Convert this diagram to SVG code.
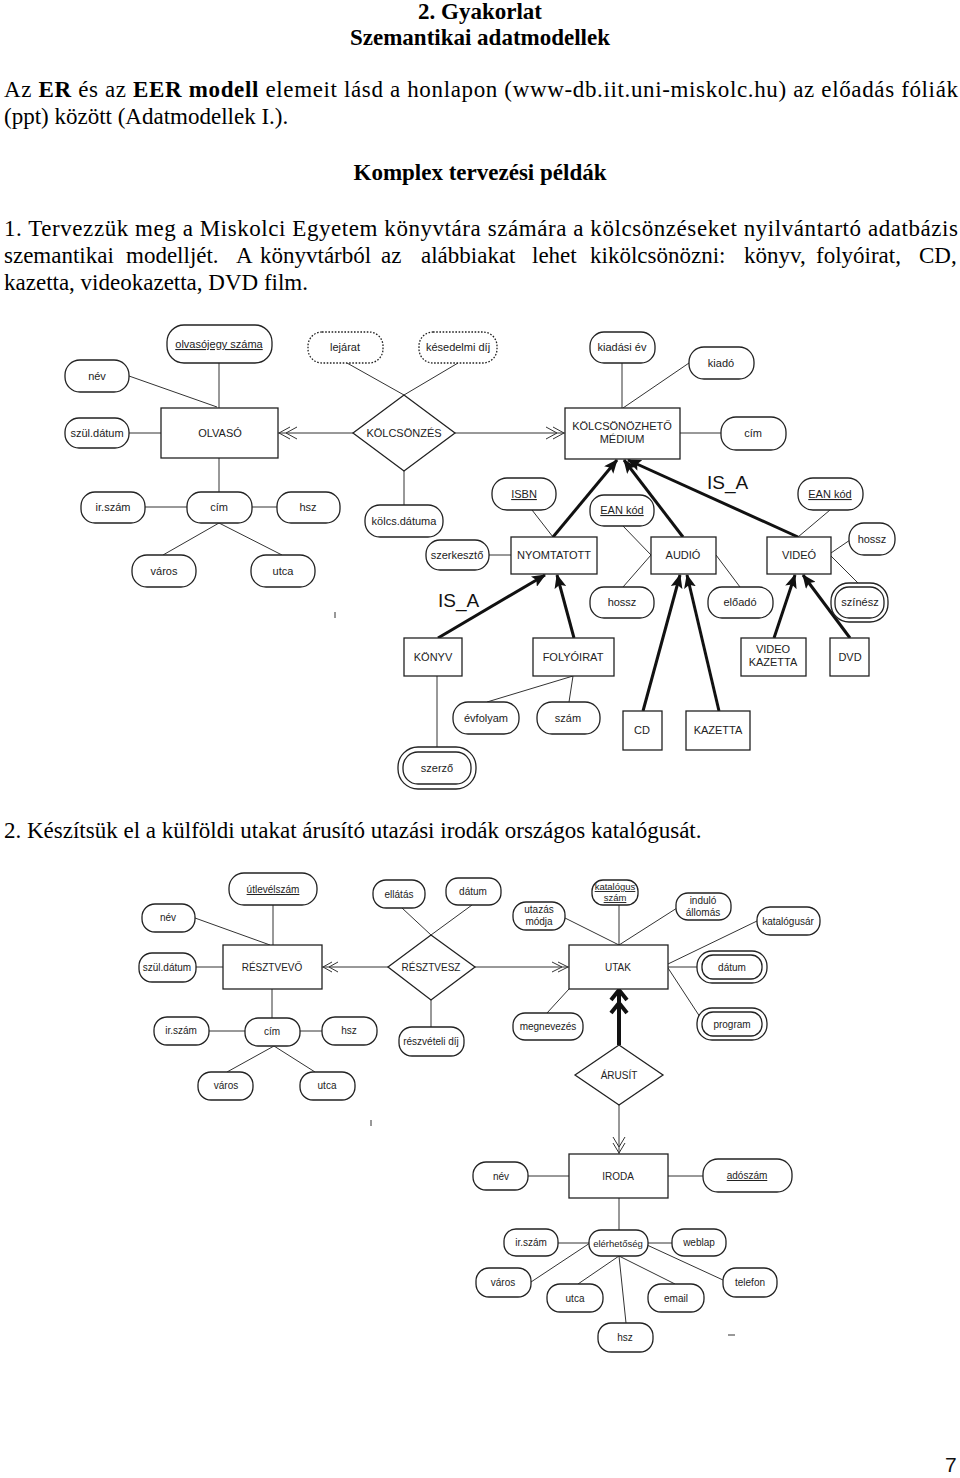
<svg xmlns="http://www.w3.org/2000/svg" width="960" height="1478" viewBox="0 0 960 1478">
<style>
.t{font-family:"Liberation Serif","Times New Roman",serif;font-size:23px;fill:#000}
.b{font-weight:bold}
.d{font-family:"Liberation Sans",Arial,sans-serif;font-size:11px;fill:#222;text-anchor:middle}
.s{font-size:10px}
.xs{font-size:9.5px}
.u{text-decoration:underline}
.isa{font-family:"Liberation Sans",Arial,sans-serif;font-size:19px;fill:#111}
.box{fill:#fff;stroke:#222;stroke-width:1.3}
.dot{stroke-dasharray:1.6 1.6}
.ln{stroke:#333;stroke-width:1;fill:none}
.thk{stroke:#111;stroke-width:3;fill:none}
.thk4{stroke:#111;stroke-width:4;fill:none}
</style>
<defs>
<marker id="tri" markerUnits="userSpaceOnUse" markerWidth="14" markerHeight="12" viewBox="0 0 14 12" refX="13" refY="6" orient="auto">
<path d="M0,0 L14,6 L0,12 L3,6 z" fill="#111"/>
</marker>
</defs>
<rect width="960" height="1478" fill="#fff"/>

<!-- page text -->
<text class="t b" x="480" y="19" text-anchor="middle">2. Gyakorlat</text>
<text class="t b" x="480" y="45" text-anchor="middle">Szemantikai adatmodellek</text>
<text class="t" x="4" y="97" textLength="954" lengthAdjust="spacing">Az <tspan class="b">ER</tspan> és az <tspan class="b">EER modell</tspan> elemeit lásd a honlapon (www-db.iit.uni-miskolc.hu) az előadás fóliák</text>
<text class="t" x="4" y="124">(ppt) között (Adatmodellek I.).</text>
<text class="t b" x="480" y="180" text-anchor="middle">Komplex tervezési példák</text>
<text class="t" x="4" y="236" textLength="954" lengthAdjust="spacing">1. Tervezzük meg a Miskolci Egyetem könyvtára számára a kölcsönzéseket nyilvántartó adatbázis</text>
<text class="t" y="263"><tspan x="4">szemantikai</tspan><tspan x="126">modelljét.</tspan><tspan x="236">A</tspan><tspan x="260">könyvtárból</tspan><tspan x="381">az</tspan><tspan x="421">alábbiakat</tspan><tspan x="532">lehet</tspan><tspan x="590">kikölcsönözni:</tspan><tspan x="744">könyv,</tspan><tspan x="816">folyóirat,</tspan><tspan x="919">CD,</tspan></text>
<text class="t" x="4" y="290">kazetta, videokazetta, DVD film.</text>
<text class="t" x="4" y="838">2. Készítsük el a külföldi utakat árusító utazási irodák országos katalógusát.</text>
<text x="945" y="1472" font-family="Liberation Sans, Arial, sans-serif" font-size="21" fill="#111">7</text>

<!-- connectors -->
<g id="connectors">
<path class="ln" d="M219,363 V408 M129,376 L217,407 M129,433 H161 M278,433 H353 M290,427 L279,433 L290,439 M297,427 L286,433 L297,439"/>
<path class="ln" d="M347,363 L404,395 M458,363 L404,395 M455,433 H565 M553,427 L564,433 L553,439 M546,427 L557,433 L546,439"/>
<path class="ln" d="M219,458 V492 M145,507 H187 M252,507 H277 M219,523 L163,555 M219,523 L282,555 M404,471 V505"/>
<path class="ln" d="M622,363 V408 M689,363 L623,408 M680,433 H721 M489,555 H511 M532,510 L553,537"/>
<path class="ln" d="M623,526 L651,555 M623,587 L651,555 M716,555 L740,587 M830,510 L798,537 M850,540 L831,553 M831,556 L858,583"/>
<path class="ln" d="M437,676 V747 M573,676 L487,702 M573,676 L569,702"/>
<g class="thk" marker-end="url(#tri)">
<path d="M553,537 L617,460"/>
<path d="M683,537 L624,460"/>
<path d="M798,537 L628,460"/>
<path d="M438,638 L545,575"/>
<path d="M574,638 L557,575"/>
<path d="M643,711 L680,575"/>
<path d="M719,711 L687,575"/>
<path d="M774,638 L795,575"/>
<path d="M850,638 L803,575"/>
</g>
<path class="ln" d="M273,905 V945 M195,918 L270,945 M196,967 H223 M322,967 H388 M332,962 L323,967 L332,972 M338,962 L329,967 L338,972"/>
<path class="ln" d="M402,908 L431,935 M472,905 L431,935 M431,1000 V1027 M272,989 V1018 M209,1031 H245 M300,1031 H322 M274,1046 L227,1072 M274,1046 L315,1072"/>
<path class="ln" d="M475,967 H569 M558,962 L568,967 L558,972 M552,962 L562,967 L552,972"/>
<path class="ln" d="M565,918 L619,945 M619,905 V945 M677,908 L619,945 M757,921 L668,964 M668,967 H697 M668,968 L702,1020 M547,1013 L569,989"/>
<path class="thk4" d="M619,1045 V991 M611,1000 L619,990 L627,1000 M611,1013 L619,1003 L627,1013"/>
<path class="ln" d="M619,1105 V1154 M613,1143 L619,1153 L625,1143 M613,1137 L619,1147 L625,1137"/>
<path class="ln" d="M528,1176 H569 M668,1176 H703 M619,1198 V1230 M558,1243 H590 M647,1243 H672"/>
<path class="ln" d="M590,1243 L531,1282 M619,1256 L578,1284 M619,1256 L675,1284 M619,1256 L626,1323 M647,1245 L723,1280"/>
<path class="ln" d="M335,612 V618 M371,1120 V1126 M728,1335 H735"/>
</g>

<!-- diagram 1 nodes -->
<g id="olvasojegy"><rect class="box" x="167" y="325" width="105" height="38" rx="17"/><text class="d u" x="219" y="348">olvasójegy száma</text></g>
<g id="nev1"><rect class="box" x="65" y="360" width="64" height="32" rx="15"/><text class="d" x="97" y="380">név</text></g>
<g id="szuldatum1"><rect class="box" x="65" y="418" width="64" height="30" rx="14"/><text class="d" x="97" y="437">szül.dátum</text></g>
<g id="olvaso"><rect class="box" x="161" y="408" width="117" height="50"/><text class="d" x="220" y="437">OLVASÓ</text></g>
<g id="lejarat"><rect class="box dot" x="308" y="332" width="75" height="31" rx="14"/><text class="d" x="345" y="351">lejárat</text></g>
<g id="kesedelmi"><rect class="box dot" x="419" y="332" width="78" height="31" rx="14"/><text class="d" x="458" y="351">késedelmi díj</text></g>
<g id="kolcsonzes"><polygon class="box" points="353,433 404,395 455,433 404,471"/><text class="d" x="404" y="437">KÖLCSÖNZÉS</text></g>
<g id="kiadasiev"><rect class="box" x="590" y="332" width="65" height="31" rx="14"/><text class="d" x="622" y="351">kiadási év</text></g>
<g id="kiado"><rect class="box" x="689" y="347" width="65" height="32" rx="15"/><text class="d" x="721" y="367">kiadó</text></g>
<g id="medium"><rect class="box" x="565" y="408" width="115" height="51"/><text class="d" x="622" y="430">KÖLCSÖNÖZHETŐ</text><text class="d" x="622" y="443">MÉDIUM</text></g>
<g id="cim1"><rect class="box" x="721" y="417" width="65" height="33" rx="15"/><text class="d" x="753" y="437">cím</text></g>
<g id="cim2"><rect class="box" x="187" y="492" width="65" height="31" rx="14"/><text class="d" x="219" y="511">cím</text></g>
<g id="irszam1"><rect class="box" x="81" y="492" width="64" height="31" rx="14"/><text class="d" x="113" y="511">ir.szám</text></g>
<g id="hsz1"><rect class="box" x="277" y="492" width="63" height="31" rx="14"/><text class="d" x="308" y="511">hsz</text></g>
<g id="varos1"><rect class="box" x="132" y="555" width="64" height="32" rx="15"/><text class="d" x="164" y="575">város</text></g>
<g id="utca1"><rect class="box" x="251" y="555" width="64" height="32" rx="15"/><text class="d" x="283" y="575">utca</text></g>
<g id="kolcsdatuma"><rect class="box" x="365" y="505" width="78" height="32" rx="15"/><text class="d" x="404" y="525">kölcs.dátuma</text></g>
<g id="isbn"><rect class="box" x="492" y="478" width="64" height="32" rx="15"/><text class="d u" x="524" y="498">ISBN</text></g>
<g id="ean1"><rect class="box" x="590" y="495" width="64" height="31" rx="14"/><text class="d u" x="622" y="514">EAN kód</text></g>
<g id="ean2"><rect class="box" x="798" y="478" width="65" height="32" rx="15"/><text class="d u" x="830" y="498">EAN kód</text></g>
<g id="szerkeszto"><rect class="box" x="426" y="540" width="63" height="30" rx="14"/><text class="d" x="457" y="559">szerkesztő</text></g>
<g id="nyomtatott"><rect class="box" x="511" y="537" width="86" height="37"/><text class="d" x="554" y="559">NYOMTATOTT</text></g>
<g id="audio"><rect class="box" x="651" y="537" width="65" height="37"/><text class="d" x="683" y="559">AUDIÓ</text></g>
<g id="video"><rect class="box" x="767" y="537" width="64" height="37"/><text class="d" x="799" y="559">VIDEÓ</text></g>
<g id="hosszv"><rect class="box" x="849" y="523" width="46" height="32" rx="15"/><text class="d" x="872" y="543">hossz</text></g>
<g id="szinesz"><rect class="box" x="831" y="583" width="57" height="39" rx="18"/><rect class="box" x="835" y="587" width="49" height="31" rx="14"/><text class="d" x="860" y="606">színész</text></g>
<g id="hossza"><rect class="box" x="590" y="587" width="64" height="31" rx="14"/><text class="d" x="622" y="606">hossz</text></g>
<g id="eloado"><rect class="box" x="708" y="587" width="65" height="31" rx="14"/><text class="d" x="740" y="606">előadó</text></g>
<g id="konyv"><rect class="box" x="404" y="638" width="58" height="38"/><text class="d" x="433" y="661">KÖNYV</text></g>
<g id="folyoirat"><rect class="box" x="533" y="638" width="81" height="38"/><text class="d" x="573" y="661">FOLYÓIRAT</text></g>
<g id="videokazetta"><rect class="box" x="741" y="638" width="65" height="38"/><text class="d" x="773" y="653">VIDEO</text><text class="d" x="773" y="666">KAZETTA</text></g>
<g id="dvd"><rect class="box" x="830" y="638" width="39" height="38"/><text class="d" x="850" y="661">DVD</text></g>
<g id="cd"><rect class="box" x="623" y="711" width="39" height="39"/><text class="d" x="642" y="734">CD</text></g>
<g id="kazetta"><rect class="box" x="686" y="711" width="64" height="39"/><text class="d" x="718" y="734">KAZETTA</text></g>
<g id="evfolyam"><rect class="box" x="453" y="702" width="66" height="32" rx="15"/><text class="d" x="486" y="722">évfolyam</text></g>
<g id="szam"><rect class="box" x="537" y="702" width="63" height="32" rx="15"/><text class="d" x="568" y="722">szám</text></g>
<g id="szerzo"><rect class="box" x="398" y="747" width="78" height="42" rx="20"/><rect class="box" x="403" y="752" width="68" height="32" rx="15"/><text class="d" x="437" y="772">szerző</text></g>
<g id="isa-labels"><text class="isa" x="438" y="607">IS_A</text><text class="isa" x="707" y="489">IS_A</text></g>

<!-- diagram 2 nodes -->
<g id="utlevelszam"><rect class="box" x="229" y="873" width="88" height="32" rx="15"/><text class="d s u" x="273" y="893">útlevélszám</text></g>
<g id="nev2"><rect class="box" x="142" y="904" width="53" height="28" rx="13"/><text class="d s" x="168" y="921">név</text></g>
<g id="resztvevo"><rect class="box" x="223" y="945" width="99" height="44"/><text class="d s" x="272" y="971">RÉSZTVEVŐ</text></g>
<g id="szuldatum2"><rect class="box" x="139" y="953" width="57" height="29" rx="13"/><text class="d s" x="167" y="971">szül.dátum</text></g>
<g id="resztvesz"><polygon class="box" points="388,967 431,935 475,967 431,1000"/><text class="d s" x="431" y="971">RÉSZTVESZ</text></g>
<g id="ellatas"><rect class="box" x="373" y="880" width="52" height="28" rx="13"/><text class="d s" x="399" y="898">ellátás</text></g>
<g id="datum1"><rect class="box" x="446" y="878" width="55" height="27" rx="12"/><text class="d s" x="473" y="895">dátum</text></g>
<g id="reszvetelidij"><rect class="box" x="399" y="1027" width="65" height="29" rx="13"/><text class="d s" x="431" y="1045">részvételi díj</text></g>
<g id="cim3"><rect class="box" x="245" y="1018" width="55" height="28" rx="13"/><text class="d s" x="272" y="1035">cím</text></g>
<g id="irszam2"><rect class="box" x="154" y="1017" width="55" height="28" rx="13"/><text class="d s" x="181" y="1034">ir.szám</text></g>
<g id="hsz2"><rect class="box" x="322" y="1017" width="55" height="28" rx="13"/><text class="d s" x="349" y="1034">hsz</text></g>
<g id="varos2"><rect class="box" x="198" y="1072" width="55" height="28" rx="13"/><text class="d s" x="226" y="1089">város</text></g>
<g id="utca2"><rect class="box" x="300" y="1072" width="55" height="28" rx="13"/><text class="d s" x="327" y="1089">utca</text></g>
<g id="utak"><rect class="box" x="569" y="945" width="99" height="44"/><text class="d s" x="618" y="971">UTAK</text></g>
<g id="utazasmodja"><rect class="box" x="513" y="902" width="52" height="28" rx="13"/><text class="d s" x="539" y="913">utazás</text><text class="d s" x="539" y="925">módja</text></g>
<g id="katalogusszam"><rect class="box" x="592" y="880" width="46" height="25" rx="11"/><text class="d xs u" x="615" y="890">katalógus</text><text class="d xs u" x="615" y="901">szám</text></g>
<g id="indulo"><rect class="box" x="676" y="893" width="55" height="27" rx="12"/><text class="d s" x="703" y="904">induló</text><text class="d s" x="703" y="916">állomás</text></g>
<g id="katalogusar"><rect class="box" x="757" y="907" width="63" height="28" rx="13"/><text class="d s" x="788" y="925">katalógusár</text></g>
<g id="datum2"><rect class="box" x="697" y="951" width="70" height="32" rx="15"/><rect class="box" x="702" y="955" width="60" height="24" rx="11"/><text class="d s" x="732" y="971">dátum</text></g>
<g id="program"><rect class="box" x="697" y="1008" width="70" height="32" rx="15"/><rect class="box" x="702" y="1012" width="60" height="24" rx="11"/><text class="d s" x="732" y="1028">program</text></g>
<g id="megnevezes"><rect class="box" x="513" y="1013" width="70" height="27" rx="12"/><text class="d s" x="548" y="1030">megnevezés</text></g>
<g id="arusit"><polygon class="box" points="575,1075 619,1045 663,1075 619,1105"/><text class="d s" x="619" y="1079">ÁRUSÍT</text></g>
<g id="iroda"><rect class="box" x="569" y="1154" width="99" height="44"/><text class="d s" x="618" y="1180">IRODA</text></g>
<g id="nev3"><rect class="box" x="473" y="1162" width="55" height="28" rx="13"/><text class="d s" x="501" y="1180">név</text></g>
<g id="adoszam"><rect class="box" x="703" y="1159" width="89" height="33" rx="15"/><text class="d s u" x="747" y="1179">adószám</text></g>
<g id="elerhetoseg"><rect class="box" x="589" y="1230" width="59" height="26" rx="12"/><text class="d xs" x="618" y="1247">elérhetőség</text></g>
<g id="irszam3"><rect class="box" x="504" y="1229" width="54" height="27" rx="12"/><text class="d s" x="531" y="1246">ir.szám</text></g>
<g id="weblap"><rect class="box" x="672" y="1229" width="54" height="27" rx="12"/><text class="d s" x="699" y="1246">weblap</text></g>
<g id="varos3"><rect class="box" x="476" y="1268" width="55" height="29" rx="13"/><text class="d s" x="503" y="1286">város</text></g>
<g id="utca3"><rect class="box" x="547" y="1284" width="56" height="28" rx="13"/><text class="d s" x="575" y="1302">utca</text></g>
<g id="email"><rect class="box" x="648" y="1284" width="56" height="28" rx="13"/><text class="d s" x="676" y="1302">email</text></g>
<g id="telefon"><rect class="box" x="723" y="1268" width="54" height="29" rx="13"/><text class="d s" x="750" y="1286">telefon</text></g>
<g id="hsz3"><rect class="box" x="598" y="1323" width="55" height="29" rx="13"/><text class="d s" x="625" y="1341">hsz</text></g>
</svg>
